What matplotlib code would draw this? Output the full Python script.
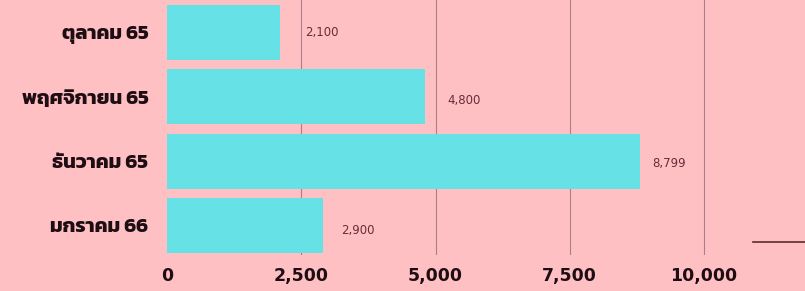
import matplotlib
matplotlib.use("Agg")
import matplotlib.pyplot as plt
from matplotlib import font_manager as fm
from matplotlib.ft2font import FT2Font

categories = ["ตุลาคม 65", "พฤศจิกายน 65", "ธันวาคม 65", "มกราคม 66"]
values = [2100, 4800, 8799, 2900]
value_labels = ["2,100", "4,800", "8,799", "2,900"]
x_ticks = [0, 2500, 5000, 7500, 10000]
x_tick_labels = ["0", "2,500", "5,000", "7,500", "10,000"]

# label placement offsets (points), styling only
label_dx = [18, 16, 9, 13]
label_dy = [0, -3, -2, -3.5]


def find_thai_families():
    names = []
    for f in fm.fontManager.ttflist:
        try:
            cm = FT2Font(f.fname).get_charmap()
        except Exception:
            continue
        if 0x0E01 in cm and 0x0E21 in cm and 0x0E38 in cm:
            if f.name not in names:
                names.append(f.name)

    def rank(n):
        nl = n.lower()
        if "kanit" in nl or "prompt" in nl:
            return 0
        if "thai" in nl and "looped" not in nl and "ui" not in nl:
            return 1
        if "thai" in nl and "looped" not in nl:
            return 2
        if "looped" in nl:
            return 4
        return 3

    names.sort(key=rank)
    return names


thai = find_thai_families()
fams = thai + ["DejaVu Sans"]

BG = "#FFC0C4"
BAR = "#66E2E6"
DARK = "#1E0E14"
GRID = "#A88088"
VAL = "#6A2B36"

fig = plt.figure(figsize=(8.05, 2.91), dpi=100, facecolor=BG)
ax = fig.add_axes([167 / 805, 36 / 291, 1 - 167 / 805, 255 / 291])
ax.set_facecolor(BG)

ypos = list(range(len(categories)))
ax.barh(ypos, values, height=0.855, color=BAR, zorder=2)
ax.set_ylim(3.46, -0.505)
ax.set_xlim(0, 11880)

for sp in ax.spines.values():
    sp.set_visible(False)

ax.set_xticks(x_ticks)
ax.set_xticklabels(x_tick_labels, fontsize=12.5, fontweight="bold", color=DARK,
                   family=["DejaVu Sans"])
ax.set_yticks(ypos)
ax.set_yticklabels(categories, fontsize=14.5, fontweight="bold", color=DARK, family=fams)
ax.tick_params(axis="x", length=0, pad=8.5)
ax.tick_params(axis="y", length=0, pad=13.5)
ax.grid(axis="x", color=GRID, linewidth=0.8, zorder=1)
ax.set_axisbelow(True)
ax.xaxis.get_gridlines()[0].set_visible(False)

for y, v, lab, dx, dy in zip(ypos, values, value_labels, label_dx, label_dy):
    ax.annotate(lab, xy=(v, y), xytext=(dx, dy), textcoords="offset points",
                ha="left", va="center", fontsize=8.5, color=VAL, family=["DejaVu Sans"])

ax.plot([0.918, 1.0], [0.05, 0.05], transform=ax.transAxes, color="#5A2A30",
        linewidth=1.2, clip_on=False, zorder=3)

fig.savefig("out.png", dpi=100, facecolor=BG)
